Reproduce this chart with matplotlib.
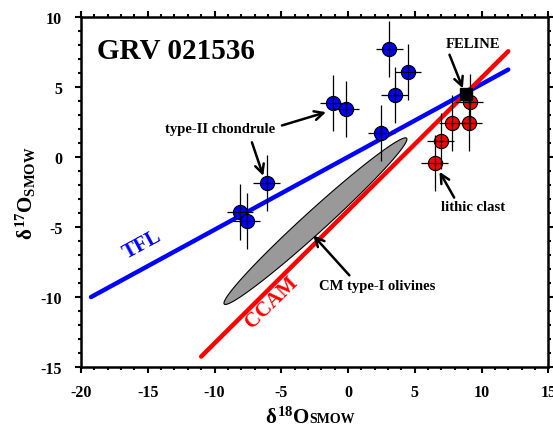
import matplotlib.pyplot as plt
import numpy as np
from matplotlib.ticker import MultipleLocator
from matplotlib.offsetbox import TextArea, HPacker, AnchoredOffsetbox

plt.rcParams['font.family'] = 'Liberation Serif'
plt.rcParams['font.weight'] = 'bold'
plt.rcParams['axes.labelweight'] = 'bold'
plt.rcParams['axes.unicode_minus'] = False
plt.rcParams['mathtext.fontset'] = 'custom'
plt.rcParams['mathtext.rm'] = 'Liberation Serif:bold'
plt.rcParams['mathtext.bf'] = 'Liberation Serif:bold'
plt.rcParams['mathtext.it'] = 'Liberation Serif'

# chondrule data (d18O, d17O)
blue_x = [3.1, 4.5, 3.5, -1.1, -0.15, 2.5, -6.1, -8.1, -7.6]
blue_y = [7.7, 6.1, 4.4, 3.85, 3.45, 1.7, -1.85, -3.9, -4.6]
red_x = [9.1, 7.8, 9.05, 6.95, 6.5]
red_y = [3.95, 2.45, 2.45, 1.15, -0.45]
err_x = 1.0
err_y = 2.0
feline = (8.85, 4.5)

# reference lines
tfl_x = [-19.25, 12.0]
tfl_y = [-10.0, 6.24]
ccam_x = [-11.0, 12.0]
ccam_y = [-14.25, 7.55]

# CM type-I olivine field (ellipse ends + half width in px)
ell_p1 = (-9.27, -10.5)
ell_p2 = (4.39, 1.34)
ell_halfwidth = 11

fig = plt.figure(figsize=(5.53, 4.27), dpi=100)
ax = fig.add_axes([0.1465, 0.138, 0.845, 0.82])
ax.set_xlim(-20, 15)
ax.set_ylim(-15, 10)

# ellipse built in pixel-ish space so it looks right
sx, sy = 13.37, 14.0
c = np.array([(ell_p1[0] + ell_p2[0]) / 2, (ell_p1[1] + ell_p2[1]) / 2])
half = np.array([(ell_p2[0] - ell_p1[0]) / 2 * sx, (ell_p2[1] - ell_p1[1]) / 2 * sy])
L = np.hypot(*half)
u = half / L
v = np.array([-u[1], u[0]])
t = np.linspace(0, 2 * np.pi, 200)
px = np.outer(np.cos(t), half) + np.outer(np.sin(t) * ell_halfwidth, v)
ax.fill(c[0] + px[:, 0] / sx, c[1] + px[:, 1] / sy, facecolor='#999999',
        edgecolor='black', lw=0.8, zorder=2)

ax.plot(tfl_x, tfl_y, color='#0000ff', lw=3.2, solid_capstyle='round', zorder=3)
ax.plot(ccam_x, ccam_y, color='#ff0000', lw=3.2, solid_capstyle='round', zorder=3)

ax.scatter(blue_x, blue_y, s=105, c='#0000ff', edgecolors='black', linewidths=0.8, zorder=4)
ax.scatter(red_x, red_y, s=105, c='#ff0000', edgecolors='black', linewidths=0.8, zorder=4)
ax.errorbar(blue_x + red_x, blue_y + red_y, xerr=err_x, yerr=err_y, fmt='none',
            ecolor='black', elinewidth=0.9, capsize=0, zorder=5)
ax.plot(*feline, marker='s', ms=8, color='black', zorder=6)

ax.text(-18.8, 7.6, 'GRV 021536', fontsize=21, fontweight='bold', va='center', ha='left')
ax.text(-15.4, -6.2, 'TFL', color='#0000ff', fontsize=15, fontweight='bold',
        rotation=28.5, ha='center', va='center')
ax.text(-5.7, -10.3, 'CCAM', color='#ff0000', fontsize=15, fontweight='bold',
        rotation=44.5, ha='center', va='center')

arrow = dict(arrowstyle='->', lw=1.8, color='black', mutation_scale=16, shrinkA=0, shrinkB=0)
ax.text(9.35, 8.1, 'FELINE', fontsize=10.5, ha='center', va='center')
ax.annotate('', xy=(8.6, 4.9), xytext=(7.6, 7.3), arrowprops=arrow)
ax.text(-9.6, 2.0, 'type-II chondrule', fontsize=10.5, ha='center', va='center')
ax.annotate('', xy=(-1.65, 3.2), xytext=(-4.95, 2.25), arrowprops=arrow)
ax.annotate('', xy=(-6.35, -1.35), xytext=(-7.2, 1.05), arrowprops=arrow)
ax.text(9.35, -3.5, 'lithic clast', fontsize=10.5, ha='center', va='center')
ax.annotate('', xy=(6.85, -1.05), xytext=(7.95, -2.9), arrowprops=arrow)
ax.text(2.2, -9.15, 'CM type-I olivines', fontsize=10.5, ha='center', va='center')
ax.annotate('', xy=(-2.6, -5.6), xytext=(0.1, -8.45), arrowprops=arrow)

# x label: small-caps style SMOW sitting on the baseline
xl = HPacker(children=[TextArea(r'$\delta^{18}$O', textprops=dict(fontsize=15, fontweight='bold')),
                       TextArea('SMOW', textprops=dict(fontsize=10, fontweight='bold'))],
             align='baseline', pad=0, sep=0)
ax.add_artist(AnchoredOffsetbox(loc='upper center', child=xl, bbox_to_anchor=(0.49, -0.112),
                                bbox_transform=ax.transAxes, frameon=False, pad=0, borderpad=0))
ax.set_ylabel(r'$\delta^{17}$O$_{\rm SMOW}$', fontsize=15, fontweight='bold', labelpad=2)

ax.xaxis.set_major_locator(MultipleLocator(5))
ax.xaxis.set_minor_locator(MultipleLocator(1))
ax.yaxis.set_major_locator(MultipleLocator(5))
ax.yaxis.set_minor_locator(MultipleLocator(1))
ax.tick_params(which='both', direction='out', top=True, right=True, width=1.5)
ax.tick_params(which='major', length=4.5, labelsize=11.5)
ax.tick_params(which='minor', length=2.5)
ax.tick_params(axis='x', which='major', pad=8)
ax.tick_params(axis='y', which='major', pad=9)
for lab in ax.get_xticklabels() + ax.get_yticklabels():
    lab.set_fontweight('bold')
for s in ax.spines.values():
    s.set_linewidth(1.8)

fig.savefig('out.png', dpi=100)
